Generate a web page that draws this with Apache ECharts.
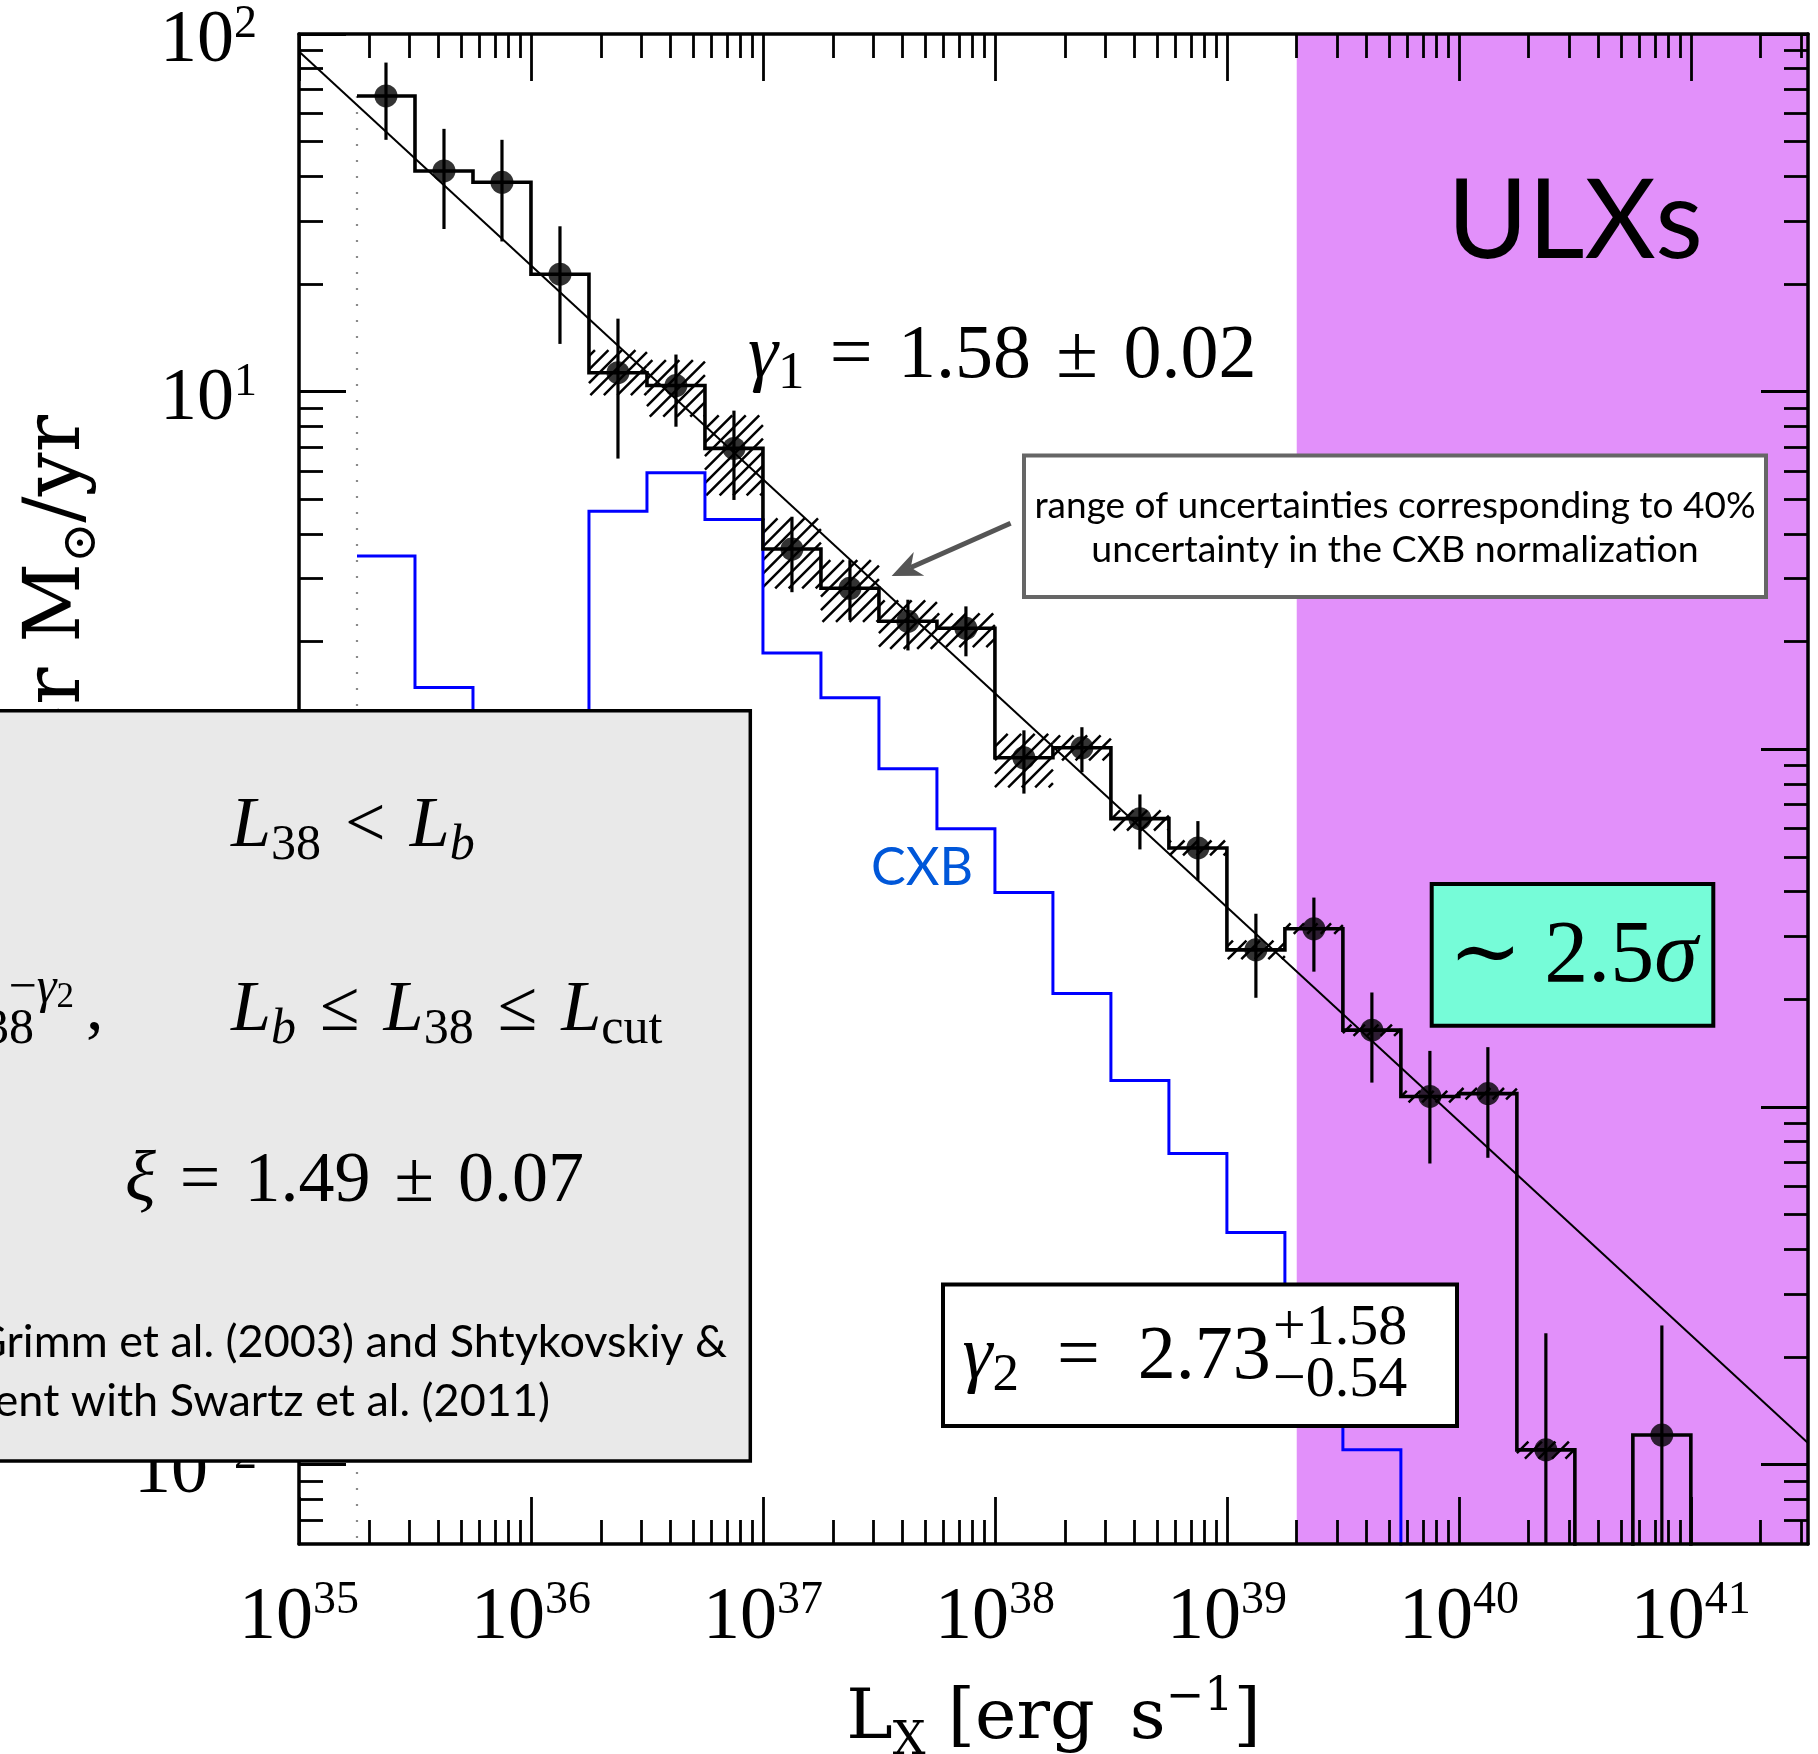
<!DOCTYPE html>
<html>
<head>
<meta charset="utf-8">
<title>HMXB XLF</title>
<script src="https://cdn.jsdelivr.net/npm/echarts@6.0.0/dist/echarts.min.js"></script>
<style>
html,body{margin:0;padding:0;background:#ffffff;}
#chart{width:1818px;height:1754px;}
</style>
</head>
<body>
<div id="chart"></div>
<script>
// ---------------- data ----------------
// histogram bin edges, log10(L_X / erg s^-1)
const binEdgesLog = [35.25, 35.5, 35.75, 36.0, 36.25, 36.5, 36.75, 37.0, 37.25, 37.5, 37.75, 38.0,
                     38.25, 38.5, 38.75, 39.0, 39.25, 39.5, 39.75, 40.0, 40.25, 40.5, 40.75, 41.0];
// observed XLF per bin (black histogram + points); 0 = empty bin
const xlfValues = [67.1, 41.4, 38.5, 21.3, 11.3, 10.4, 6.94, 3.63, 2.82, 2.28, 2.18, 0.947,
                   1.01, 0.640, 0.530, 0.275, 0.315, 0.164, 0.107, 0.109, 0.0110, 0, 0.0121];
// error bars (lower / upper); lower values below the axis run off the plot
const errLow  = [50.6, 28.5, 26.3, 13.6, 6.50, 7.98, 4.98, 2.75, 2.30, 1.89, 1.82, 0.752,
                 0.863, 0.525, 0.430, 0.202, 0.239, 0.117, 0.0695, 0.0721, 0.0001, null, 0.0001];
const errHigh = [83.2, 54.3, 50.6, 29.0, 16.0, 12.7, 8.85, 4.47, 3.38, 2.62, 2.51, 1.13,
                 1.153, 0.748, 0.630, 0.347, 0.385, 0.209, 0.1435, 0.147, 0.0233, null, 0.0245];
// CXB contribution (blue histogram); 0 = empty bin
const cxbValues = [3.47, 1.49, 0.9, 0.7, 4.63, 5.93, 4.39, 1.86, 1.394, 0.882, 0.600, 0.398,
                   0.2075, 0.1186, 0.0741, 0.0446, 0.02, 0.011, 0, 0, 0, 0, 0];
// hatched band: range for a 40% uncertainty of the CXB normalization
const bandLow  = [null, null, null, null, 9.78, 8.51, 5.13, 2.82, 2.27, 1.91, 1.93, 0.783,
                  0.931, 0.593, 0.505, 0.259, 0.305, 0.158, 0.103, 0.105, 0.0104, null, null];
const bandHigh = [null, null, null, null, 13.07, 12.25, 8.59, 4.42, 3.38, 2.61, 2.40, 1.105,
                  1.094, 0.675, 0.556, 0.292, 0.326, 0.170, 0.111, 0.113, 0.0116, null, null];
// power-law fit line
const fitLogL   = [35, 41.505];
const fitValues = [89.3, 0.0115];
// ULX region starts at
const ulxStartL = 2e39;
// axis ticks
const xMajorTicks = [1e35, 1e36, 1e37, 1e38, 1e39, 1e40, 1e41];
const yMajorTicks = [1e-2, 1e-1, 1, 10, 100];
const X_MIN = 1e35, X_MAX = Math.pow(10, 41.505);
const Y_MIN = 0.006, Y_MAX = 100;
const FLOOR = 1e-4;

// ---------------- helpers ----------------
const L10 = v => Math.pow(10, v);
function minorTicks(lo, hi) {
  const out = [];
  for (let e = Math.floor(Math.log10(lo)) - 1; e <= Math.ceil(Math.log10(hi)); e++) {
    for (let k = 2; k <= 9; k++) {
      const v = k * Math.pow(10, e);
      if (v > lo * 1.0001 && v < hi * 0.9999) out.push(v);
    }
  }
  return out;
}
const xMinorTicks = minorTicks(X_MIN, X_MAX);
const yMinorTicks = minorTicks(Y_MIN, Y_MAX);

function stepData(values) {
  const pts = [];
  for (let i = 0; i < values.length; i++) {
    const v = values[i] > 0 ? values[i] : FLOOR;
    pts.push([L10(binEdgesLog[i]), v], [L10(binEdgesLog[i + 1]), v]);
  }
  pts.push([L10(binEdgesLog[values.length]), FLOOR]);
  return pts;
}
const binCenter = i => L10((binEdgesLog[i] + binEdgesLog[i + 1]) / 2);

const pointData = [], errData = [], hatchData = [];
xlfValues.forEach((v, i) => {
  if (v > 0) pointData.push([binCenter(i), v]);
  if (errLow[i] != null) errData.push([binCenter(i), errLow[i], errHigh[i]]);
  if (bandLow[i] != null) hatchData.push([L10(binEdgesLog[i]), L10(binEdgesLog[i + 1]), bandLow[i], bandHigh[i]]);
});
const fitData = fitLogL.map((l, i) => [L10(l), fitValues[i]]);
const edgeData = [[L10(binEdgesLog[0]), xlfValues[0]], [L10(binEdgesLog[0]), FLOOR]];

// fonts
const SERIF = '"Liberation Serif","DejaVu Serif",serif';
const DSERIF = '"DejaVu Serif","DejaVu Sans",serif';
const SANS = 'Lato,"Open Sans","DejaVu Sans",sans-serif';
const FONT_MID = {serif: 0.25, dserif: 0.26, sans: 0.31};
const FONT_FAM = {serif: SERIF, dserif: DSERIF, sans: SANS};
function tk(text, size, o) { return Object.assign({text, size, shift: 0, it: false, font: 'serif'}, o || {}); }
// rich text with all tokens bottom-aligned; shift = raise of a token's baseline
function richSpec(tokens, color, echartsStyle, padTop) {
  let K = -Infinity;
  tokens.forEach(t => { K = Math.max(K, (0.5 - FONT_MID[t.font]) * t.size - t.shift); });
  const rich = {}; let text = '';
  tokens.forEach((t, i) => {
    const pb = Math.max(0, K - (0.5 - FONT_MID[t.font]) * t.size + t.shift);
    const st = {fontFamily: FONT_FAM[t.font], fontSize: t.size, fontStyle: t.it ? 'italic' : 'normal',
                fontWeight: 'normal', verticalAlign: 'bottom', padding: [padTop || 0, 0, pb, 0]};
    if (echartsStyle) st.color = t.color || color; else st.fill = t.color || color;
    rich['r' + i] = st;
    text += '{r' + i + '|' + t.text + '}';
  });
  return {text, rich, K};
}
function textEl(x, baseline, align, tokens, color, z) {
  const r = richSpec(tokens, color || '#000', false);
  return {type: 'text', x: x, y: baseline + r.K, z: z || 120, silent: true,
          style: {text: r.text, rich: r.rich, align: align, verticalAlign: 'bottom', fill: color || '#000'}};
}

// axis label rich (10^n)
const xLab = richSpec([tk('10', 74), tk('0', 46, {shift: 25})], '#000', true);
const yLab = richSpec([tk('10', 74), tk('0', 46, {shift: 24})], '#000', true, 13);
function powLabel(v) {
  const e = Math.round(Math.log10(v));
  return '{r0|10}{r1|' + (e < 0 ? '\u2212' + (-e) : e) + '}';
}
const xName = richSpec([tk('L', 70, {font: 'dserif'}), tk('X', 46, {font: 'dserif', shift: -16}),
                        tk(' [erg\u2002s', 70, {font: 'dserif'}), tk('\u22121', 46, {font: 'dserif', shift: 28}),
                        tk(']', 70, {font: 'dserif'})], '#000', true);

function xAx(pos, major, labels) {
  const a = {type: 'log', logBase: 10, min: X_MIN, max: X_MAX, position: pos, z: 10,
    axisLine: {show: major, onZero: false, lineStyle: {color: '#000', width: 3.5}},
    axisTick: {show: true, inside: true, length: major ? 47 : 24,
               lineStyle: {color: '#000', width: 2.8}, customValues: major ? xMajorTicks : xMinorTicks},
    axisLabel: {show: false}, splitLine: {show: false}, minorTick: {show: false}, axisPointer: {show: false}};
  if (labels) {
    a.axisLabel = {show: true, customValues: xMajorTicks, margin: 34, formatter: powLabel,
                   rich: xLab.rich, showMinLabel: true, showMaxLabel: true, hideOverlap: false};
    a.name = xName.text; a.nameLocation = 'middle'; a.nameGap = 131;
    a.nameTextStyle = {rich: xName.rich, color: '#000'};
  }
  return a;
}
function yAx(pos, major, labels) {
  const a = {type: 'log', logBase: 10, min: Y_MIN, max: Y_MAX, position: pos, z: 10,
    axisLine: {show: major, onZero: false, lineStyle: {color: '#000', width: 3.5}},
    axisTick: {show: true, inside: true, length: major ? 47 : 24,
               lineStyle: {color: '#000', width: 2.8}, customValues: major ? yMajorTicks : yMinorTicks},
    axisLabel: {show: false}, splitLine: {show: false}, minorTick: {show: false}, axisPointer: {show: false}};
  if (labels) {
    a.axisLabel = {show: true, customValues: yMajorTicks, margin: 42, formatter: powLabel,
                   rich: yLab.rich, showMinLabel: true, showMaxLabel: true, hideOverlap: false};
  }
  return a;
}

function hatchRender(params, api) {
  const a = api.coord([api.value(0), api.value(3)]);
  const b = api.coord([api.value(1), api.value(2)]);
  const x0 = a[0], y0 = a[1], x1 = b[0], y1 = b[1];
  const s = 13.5, children = [];
  for (let c = Math.ceil((x0 + y0) / s) * s; c <= x1 + y1; c += s) {
    const xa = Math.max(x0, c - y1), xb = Math.min(x1, c - y0);
    if (xb > xa + 0.5) children.push({type: 'line', shape: {x1: xa, y1: c - xa, x2: xb, y2: c - xb},
                                      style: {stroke: '#000', lineWidth: 2.5}});
  }
  return {type: 'group', children};
}
function errRender(params, api) {
  const x = api.value(0);
  const p0 = api.coord([x, api.value(1)]), p1 = api.coord([x, api.value(2)]);
  const cs = params.coordSys;
  const yb = Math.min(p0[1], cs.y + cs.height), yt = Math.max(p1[1], cs.y);
  return {type: 'line', shape: {x1: p0[0], y1: yb, x2: p1[0], y2: yt},
          style: {stroke: '#000', lineWidth: 3.2}};
}

// ---------------- annotations ----------------
const graphics = [];
const SP = '\u2004';
// y-axis title (mostly hidden by the grey box)
const yName = richSpec([tk('dN/dlog(L) per M', 78, {font: 'dserif'}), tk('\u2299', 48, {font: 'dserif', shift: -16.5}),
                        tk('/yr', 78, {font: 'dserif'})], '#000', false);
graphics.push({type: 'text', x: 79 + yName.K, y: 415, rotation: Math.PI / 2, z: 50, silent: true,
               style: {text: yName.text, rich: yName.rich, align: 'right', verticalAlign: 'bottom', fill: '#000'}});
// gamma_1
graphics.push(textEl(748, 376, 'left', [tk('\u03b3', 76, {it: true}), tk('1', 53, {shift: -11}),
  tk(SP + '=' + SP + '1.58' + SP + '\u00b1' + SP + '0.02', 76)]));
// ULXs
graphics.push(textEl(1575, 257, 'center', [tk('ULXs', 110, {font: 'sans'})]));
// annotation box + arrow
graphics.push({type: 'rect', z: 110, silent: true, shape: {x: 1024, y: 455.6, width: 742, height: 141.4},
               style: {fill: '#ffffff', stroke: '#666666', lineWidth: 4}});
graphics.push(textEl(1395, 517.5, 'center', [tk('range of uncertainties corresponding to 40%', 37, {font: 'sans'})]));
graphics.push(textEl(1395, 562, 'center', [tk('uncertainty in the CXB normalization', 37.5, {font: 'sans'})]));
(function () {
  const S = [1010.6, 523.3], T = [891.6, 576];
  const dx = T[0] - S[0], dy = T[1] - S[1], len = Math.hypot(dx, dy);
  const u = [dx / len, dy / len], n = [-u[1], u[0]];
  const B = [T[0] - 30 * u[0], T[1] - 30 * u[1]], N = [T[0] - 21 * u[0], T[1] - 21 * u[1]];
  graphics.push({type: 'line', z: 110, silent: true, shape: {x1: S[0], y1: S[1], x2: N[0], y2: N[1]},
                 style: {stroke: '#555555', lineWidth: 5}});
  graphics.push({type: 'polygon', z: 110, silent: true,
                 shape: {points: [T, [B[0] + 13 * n[0], B[1] + 13 * n[1]], N, [B[0] - 13 * n[0], B[1] - 13 * n[1]]]},
                 style: {fill: '#555555'}});
})();
// CXB label
graphics.push(textEl(922, 884, 'center', [tk('CXB', 52, {font: 'sans'})], '#0057d9'));
// ~2.5 sigma box
graphics.push({type: 'rect', z: 110, silent: true, shape: {x: 1431.7, y: 884, width: 281.6, height: 141.7},
               style: {fill: '#76fcd8', stroke: '#000', lineWidth: 4}});
graphics.push(textEl(1573, 980, 'center', [tk('\u223c 2.5', 88), tk('\u03c3', 88, {it: true})]));
// gamma_2 box
graphics.push({type: 'rect', z: 110, silent: true, shape: {x: 943, y: 1284.5, width: 514, height: 141.5},
               style: {fill: '#ffffff', stroke: '#000', lineWidth: 4}});
graphics.push(textEl(962.5, 1377, 'left', [tk('\u03b3', 76, {it: true}), tk('2', 53, {shift: -12}),
  tk('\u2002=\u20022.73', 76)]));
graphics.push(textEl(1273, 1343, 'left', [tk('+1.58', 58)]));
graphics.push(textEl(1273, 1395.5, 'left', [tk('\u22120.54', 58)]));
// grey box with the XLF formula
graphics.push({type: 'rect', z: 100, silent: true, shape: {x: -10, y: 710.7, width: 760.3, height: 750.3},
               style: {fill: '#e9e9e9', stroke: '#000', lineWidth: 3.5}});
graphics.push(textEl(231, 845, 'left', [tk('L', 72, {it: true}), tk('38', 50, {shift: -13}), tk(SP + '<' + SP, 72),
  tk('L', 72, {it: true}), tk('b', 50, {it: true, shift: -13})]));
graphics.push(textEl(231, 1029, 'left', [tk('L', 72, {it: true}), tk('b', 50, {it: true, shift: -13}),
  tk(SP + '\u2264' + SP, 72), tk('L', 72, {it: true}), tk('38', 50, {shift: -13}), tk(SP + '\u2264' + SP, 72),
  tk('L', 72, {it: true}), tk('cut', 50, {shift: -13})]));
graphics.push(textEl(34, 1042, 'right', [tk('38', 50)]));
graphics.push(textEl(74, 1001, 'right', [tk('\u2212', 50), tk('\u03b3', 50, {it: true}), tk('2', 35, {shift: -6})]));
graphics.push(textEl(86, 1028, 'left', [tk(',', 70)]));
graphics.push(textEl(354.5, 1200, 'center', [tk('\u03be', 72, {it: true}),
  tk(SP + '=' + SP + '1.49' + SP + '\u00b1' + SP + '0.07', 72)]));
graphics.push(textEl(727, 1356, 'right', [tk('Grimm et al. (2003) and Shtykovskiy &', 45, {font: 'sans'})]));
graphics.push(textEl(550, 1415, 'right', [tk('ent with Swartz et al. (2011)', 45, {font: 'sans'})]));

// ---------------- chart ----------------
const chart = echarts.init(document.getElementById('chart'), null, {renderer: 'canvas'});
chart.setOption({
  animation: false,
  backgroundColor: '#ffffff',
  grid: {left: 299, top: 34, width: 1509, height: 1510, containLabel: false, outerBoundsMode: 'none'},
  xAxis: [xAx('bottom', true, true), xAx('top', true, false), xAx('bottom', false, false), xAx('top', false, false)],
  yAxis: [yAx('left', true, true), yAx('right', true, false), yAx('left', false, false), yAx('right', false, false)],
  series: [
    {type: 'line', name: 'ULX band', data: [], z: 1, silent: true,
     markArea: {silent: true, z: 1, itemStyle: {color: '#e290fa'}, label: {show: false},
                data: [[{xAxis: ulxStartL}, {xAxis: X_MAX}]]}},
    {type: 'custom', name: 'CXB uncertainty', z: 2, silent: true, renderItem: hatchRender,
     data: hatchData, encode: {x: [0, 1], y: [2, 3]}},
    {type: 'line', name: 'CXB', data: stepData(cxbValues), symbol: 'none', z: 3, silent: true,
     lineStyle: {color: '#0000ff', width: 3, join: 'miter', cap: 'butt'}},
    {type: 'line', name: 'fit', data: fitData, symbol: 'none', z: 3, silent: true,
     lineStyle: {color: '#000', width: 2}},
    {type: 'line', name: 'lower limit', data: edgeData, symbol: 'none', z: 3, silent: true,
     lineStyle: {color: '#8a8a8a', width: 2.2, type: [2, 14]}},
    {type: 'line', name: 'XLF', data: stepData(xlfValues), symbol: 'none', z: 4, silent: true,
     lineStyle: {color: '#000', width: 3.6, join: 'miter', cap: 'butt'}},
    {type: 'custom', name: 'errors', z: 4, silent: true, renderItem: errRender,
     data: errData, encode: {x: 0, y: [1, 2]}},
    {type: 'scatter', name: 'XLF points', data: pointData, symbol: 'circle', symbolSize: 23, z: 5, silent: true,
     itemStyle: {color: '#000'}}
  ],
  graphic: {elements: graphics}
});
</script>
</body>
</html>
